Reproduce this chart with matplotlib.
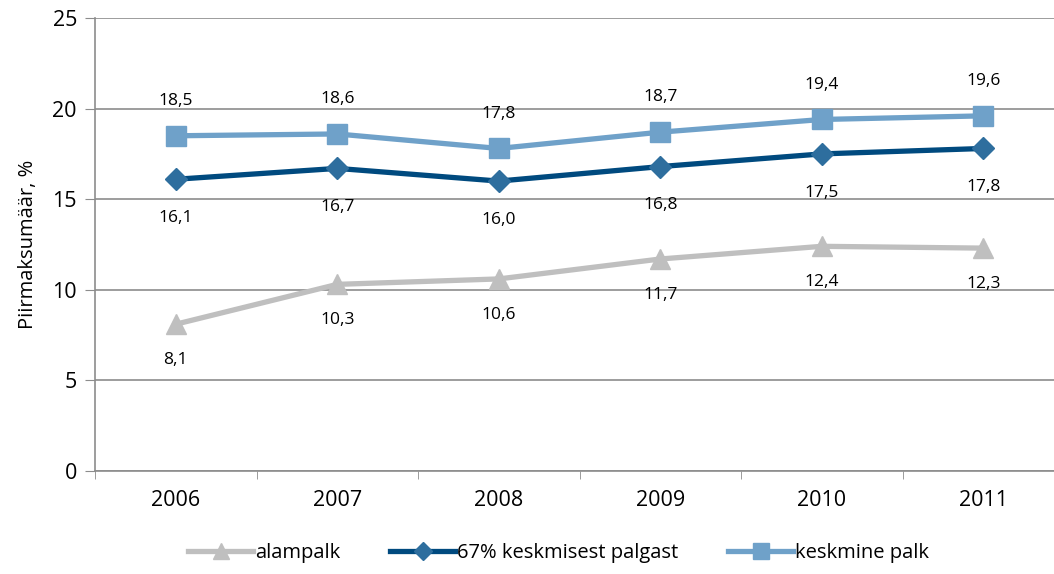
import matplotlib.pyplot as plt
import numpy as np

# === Data ===
years = ['2006', '2007', '2008', '2009', '2010', '2011']
alampalk = [8.1, 10.3, 10.6, 11.7, 12.4, 12.3]
kesk67 = [16.1, 16.7, 16.0, 16.8, 17.5, 17.8]
keskmine = [18.5, 18.6, 17.8, 18.7, 19.4, 19.6]

plt.rcParams['font.family'] = ['Open Sans', 'DejaVu Sans']

fig = plt.figure(figsize=(10.54, 5.74), dpi=100)
ax = fig.add_axes([95 / 1054, 1 - 471 / 574, 969 / 1054, 453 / 574])

x = np.arange(len(years))
grid_c = '#8c8c8c'

ax.plot(x, alampalk, color='#bfbfbf', lw=3.8, marker='^', ms=15,
        mfc='#bfbfbf', mec='#bfbfbf', label='alampalk', zorder=3)
ax.plot(x, kesk67, color='#004a7f', lw=3.8, marker='D', ms=11,
        mfc='#2e6e9e', mec='#2e6e9e', label='67% keskmisest palgast', zorder=4)
ax.plot(x, keskmine, color='#6fa1c9', lw=3.8, marker='s', ms=14,
        mfc='#6fa1c9', mec='#6fa1c9', label='keskmine palk', zorder=5)

def fmt(v):
    return f"{v:.1f}".replace('.', ',')

for xi, v in zip(x, keskmine):
    ax.annotate(fmt(v), (xi, v), xytext=(0, 25), textcoords='offset points',
                ha='center', va='center', fontsize=12.5)
for xi, v in zip(x, kesk67):
    ax.annotate(fmt(v), (xi, v), xytext=(0, -28), textcoords='offset points',
                ha='center', va='center', fontsize=12.5)
for xi, v in zip(x, alampalk):
    ax.annotate(fmt(v), (xi, v), xytext=(0, -26), textcoords='offset points',
                ha='center', va='center', fontsize=12.5)

ax.set_xlim(-0.5, len(years) - 0.5)
ax.set_ylim(0, 25)
ax.set_yticks(range(0, 26, 5))
ax.set_xticks(x)
ax.set_xticklabels(years)
ax.set_xticks(np.arange(-0.5, len(years), 1), minor=True)
ax.tick_params(axis='x', which='major', length=0, pad=14, labelsize=15.5)
ax.tick_params(axis='x', which='minor', length=6, color=grid_c)
ax.tick_params(axis='y', length=7, color=grid_c, labelsize=15.5, pad=6)

ax.grid(axis='y', color=grid_c, lw=1.2)
ax.set_axisbelow(True)
for s in ['top', 'right']:
    ax.spines[s].set_visible(False)
ax.spines['left'].set_color(grid_c)
ax.spines['bottom'].set_color(grid_c)
ax.spines['left'].set_linewidth(1.2)
ax.spines['bottom'].set_linewidth(1.2)

ax.set_ylabel('Piirmaksumäär, %', fontsize=14.5, labelpad=10)

fig.legend(loc='center', bbox_to_anchor=(0.53, 1 - 553 / 574), ncol=3,
           frameon=False, fontsize=14.5, handlelength=3.2, columnspacing=2.5,
           handletextpad=0.1, markerscale=0.8)

fig.savefig('out.png', dpi=100)
